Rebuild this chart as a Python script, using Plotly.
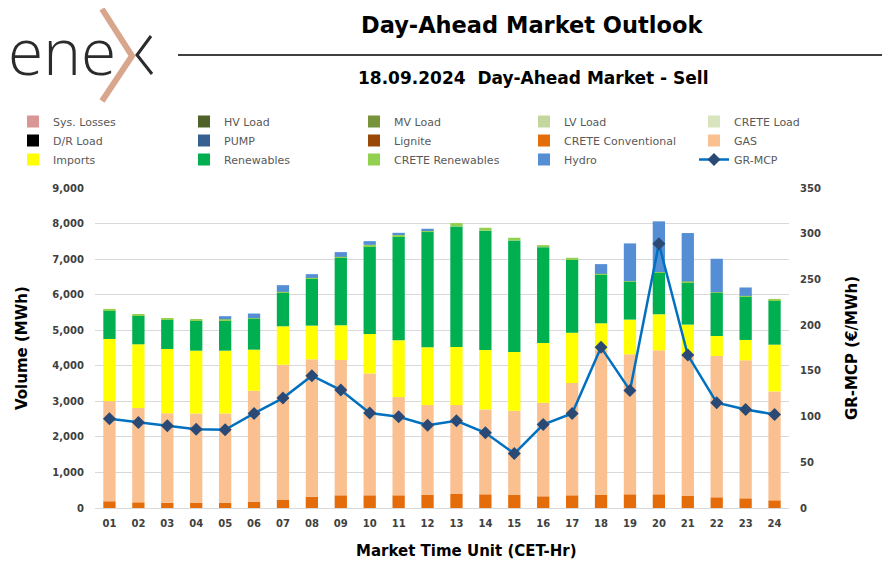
import plotly.graph_objects as go

hours = ["01","02","03","04","05","06","07","08","09","10","11","12",
         "13","14","15","16","17","18","19","20","21","22","23","24"]

sys_losses = [0]*24
hv_load = [0]*24
mv_load = [0]*24
lv_load = [0]*24
crete_load = [0]*24
dr_load = [0]*24
pump = [0]*24
lignite = [0]*24
crete_conv = [190,160,150,150,150,180,225,320,357,357,357,376,395,385,366,329,357,366,385,385,348,301,272,216]
gas = [2816,2649,2518,2509,2509,3118,3805,3861,3805,3429,2762,2518,2499,2387,2368,2630,3157,4084,3937,4049,3982,3974,3881,3063]
imports = [1748,1795,1804,1766,1766,1155,1081,949,977,1109,1597,1625,1634,1672,1653,1682,1418,745,977,1015,828,563,573,1315]
renewables = [798,807,827,846,855,865,949,1315,1898,2471,2922,3241,3392,3354,3138,2696,2058,1372,1071,1165,1193,1212,1221,1250]
crete_ren = [48,30,45,38,30,20,20,28,28,35,55,57,94,84,76,57,47,20,10,20,20,20,20,37]
hydro = [0,0,0,0,85,132,187,104,132,104,47,37,0,0,0,0,0,272,1062,1428,1362,940,235,0]
gr_mcp = [97.6,93.5,89.9,86.2,85.5,103.4,120.2,144.7,129.0,103.8,99.7,90.6,95.4,82.2,59.6,91.3,103.4,175.7,128.6,289.0,167.3,115.1,107.8,102.3]

series = [
    ("Sys. Losses", sys_losses, "#D99694"),
    ("HV Load", hv_load, "#4F6228"),
    ("MV Load", mv_load, "#77933C"),
    ("LV Load", lv_load, "#C3D69B"),
    ("CRETE Load", crete_load, "#D7E4BD"),
    ("D/R Load", dr_load, "#000000"),
    ("PUMP", pump, "#376092"),
    ("Lignite", lignite, "#984807"),
    ("CRETE Conventional", crete_conv, "#E46C0A"),
    ("GAS", gas, "#FAC090"),
    ("Imports", imports, "#FFFF00"),
    ("Renewables", renewables, "#00B050"),
    ("CRETE Renewables", crete_ren, "#92D050"),
    ("Hydro", hydro, "#558ED5"),
]

# page offset (browser body margin)
OFF = 8
W, H = 890 - OFF, 582 - OFF
PL, PR, PT, PB = 95, 789, 188, 508   # plot area in page pixels
L, R, T, B = PL - OFF, 890 - PR, PT - OFF, 582 - PB

def px(x):
    return (x - PL) / (PR - PL)

def py(y):
    return (PB - y) / (PB - PT)

def legend_name(i):
    k = i % 5
    return "legend" if k == 0 else f"legend{k+1}"

fig = go.Figure()
for i, (name, vals, col) in enumerate(series):
    fig.add_trace(go.Bar(x=hours, y=vals, name=name, marker=dict(color=col, line=dict(width=0)),
                         yaxis="y", legend=legend_name(i)))
fig.add_trace(go.Scatter(x=hours, y=gr_mcp, name="GR-MCP", yaxis="y2", mode="lines+markers",
                         line=dict(color="#0070C0", width=2.5),
                         marker=dict(symbol="diamond", size=10, color="#2A4A75"),
                         legend=legend_name(len(series))))

tickfont = dict(family="DejaVu Sans", size=10, color="#404040", weight="bold")

col_text_x = [53, 224, 394, 564, 734]
legend_top = 107
leg_common = dict(orientation="v", xref="container", yref="container", xanchor="left",
                  yanchor="top", font=dict(family="DejaVu Sans", size=11, color="#595959"),
                  traceorder="normal", bgcolor="rgba(0,0,0,0)", tracegroupgap=0)
legends = {}
for k, tx in enumerate(col_text_x):
    key = "legend" if k == 0 else f"legend{k+1}"
    legends[key] = dict(leg_common, x=(tx - 40 - OFF) / W, y=1 - (legend_top - OFF) / H)

fig.update_layout(
    width=W, height=H,
    margin=dict(l=L, r=R, t=T, b=B, autoexpand=False),
    paper_bgcolor="white", plot_bgcolor="white",
    barmode="relative", bargap=0.575,
    font=dict(family="DejaVu Sans", color="#404040"),
    xaxis=dict(type="category", range=[-0.5, 23.5], tickfont=tickfont, showgrid=False,
               showline=False, ticks="", ticklabelstandoff=8),
    yaxis=dict(range=[0, 9000], dtick=1000, tickformat=",", tickfont=tickfont,
               showgrid=True, gridcolor="#D9D9D9", gridwidth=1, zeroline=True,
               zerolinecolor="#D9D9D9", zerolinewidth=1, showline=False, ticks="",
               ticklabelstandoff=10),
    yaxis2=dict(range=[0, 350], dtick=50, overlaying="y", side="right", tickfont=tickfont,
                showgrid=False, zeroline=False, showline=False, ticks="", ticklabelstandoff=10),
    showlegend=True,
    **legends,
)

annotations = [
    dict(text="<b>Day-Ahead Market Outlook</b>", x=px(532), y=py(25), xref="paper", yref="paper",
         showarrow=False, font=dict(family="DejaVu Sans", size=22.5, color="#000000"),
         xanchor="center", yanchor="middle"),
    dict(text="<b>18.09.2024  Day-Ahead Market - Sell</b>", x=px(533), y=py(78), xref="paper",
         yref="paper", showarrow=False, font=dict(family="DejaVu Sans", size=17, color="#000000"),
         xanchor="center", yanchor="middle"),
    dict(text="<b>Volume (MWh)</b>", x=px(22), y=py(348), xref="paper", yref="paper",
         showarrow=False, textangle=-90, font=dict(family="DejaVu Sans", size=15, color="#000000"),
         xanchor="center", yanchor="middle"),
    dict(text="<b>GR-MCP (€/MWh)</b>", x=px(852), y=py(348), xref="paper", yref="paper",
         showarrow=False, textangle=-90, font=dict(family="DejaVu Sans", size=15, color="#000000"),
         xanchor="center", yanchor="middle"),
    dict(text="<b>Market Time Unit (CET-Hr)</b>", x=px(466), y=py(551), xref="paper", yref="paper",
         showarrow=False, font=dict(family="DejaVu Sans", size=15, color="#000000"),
         xanchor="center", yanchor="middle"),
    dict(text="ene", x=px(6), y=py(51), xref="paper", yref="paper", showarrow=False,
         font=dict(family="Open Sans", size=64, color="#2B2B2B", weight=300),
         xanchor="left", yanchor="middle"),
]

shapes = [
    dict(type="line", xref="paper", yref="paper", x0=px(178), x1=px(885), y0=py(55), y1=py(55),
         line=dict(color="#000000", width=1.5)),
    dict(type="path", xref="paper", yref="paper",
         path=f"M {px(102)} {py(9)} L {px(132)} {py(56)} L {px(102)} {py(101)}",
         line=dict(color="#D8A68C", width=6)),
    dict(type="path", xref="paper", yref="paper",
         path=f"M {px(151)} {py(36)} L {px(137)} {py(55)} L {px(152)} {py(74)}",
         line=dict(color="#2B2B2B", width=3)),
]

fig.update_layout(annotations=annotations, shapes=shapes)
fig.write_html("out.html")
